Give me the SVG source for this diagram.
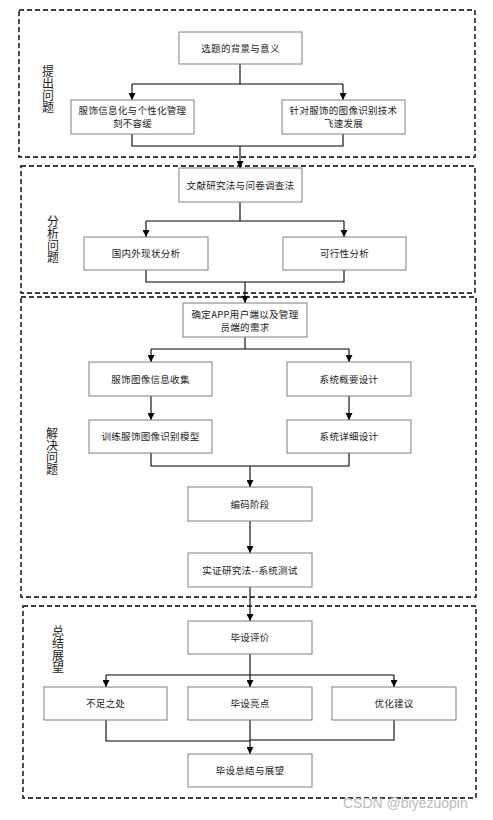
<svg xmlns="http://www.w3.org/2000/svg" width="493" height="820" viewBox="0 0 493 820">
<defs>
<marker id="ah" viewBox="0 0 10 10" refX="10" refY="5" markerWidth="7" markerHeight="7" markerUnits="userSpaceOnUse" orient="auto"><path d="M0,0 L10,5 L0,10 z" fill="#000"/></marker>
<style>
.sec{fill:none;stroke:#000;stroke-width:1.4;stroke-dasharray:5,3}
.box{fill:#fff;stroke:#7f7f7f;stroke-width:1}
.t{font-family:"Noto Sans CJK SC","Liberation Sans",sans-serif;font-size:9.5px;fill:#222;text-anchor:middle;letter-spacing:0.3px}
.lab{font-family:"Noto Sans CJK SC",sans-serif;font-size:12px;fill:#222;writing-mode:vertical-rl}
.c{fill:none;stroke:#000;stroke-width:1.1}
.a{marker-end:url(#ah)}
.wm{font-family:"Liberation Sans",sans-serif;font-size:14px;fill:#bbb}
</style>
</defs>
<rect width="493" height="820" fill="#fff"/>
<g id="sections">
<rect class="sec" x="19" y="10" width="456" height="147"/>
<rect class="sec" x="21" y="166" width="454" height="127"/>
<rect class="sec" x="21" y="297" width="455" height="300"/>
<rect class="sec" x="23" y="606" width="453" height="192"/>
</g>
<g id="labels">
<text class="lab" x="48" y="65">提出问题</text>
<text class="lab" x="53" y="215">分析问题</text>
<text class="lab" x="52" y="427">解决问题</text>
<text class="lab" x="58" y="625">总结展望</text>
</g>
<g id="connectors">
<path class="c" d="M240,64 V84 M132,84 H343"/>
<path class="c a" d="M132,84 V100"/>
<path class="c a" d="M343,84 V100"/>
<path class="c" d="M132,134 V146 H343 V134"/>
<path class="c a" d="M240,146 V168"/>
<path class="c" d="M240,202 V221 M146,221 H344"/>
<path class="c a" d="M146,221 V237"/>
<path class="c a" d="M344,221 V237"/>
<path class="c" d="M146,270 V282 H344 V270"/>
<path class="c a" d="M245,282 V303"/>
<path class="c" d="M245,337 V349 M151,349 H349"/>
<path class="c a" d="M151,349 V362"/>
<path class="c a" d="M349,349 V362"/>
<path class="c a" d="M151,396 V420"/>
<path class="c a" d="M349,396 V420"/>
<path class="c" d="M151,453 V466 H349 V453"/>
<path class="c a" d="M250,466 V487"/>
<path class="c a" d="M250,521 V553"/>
<path class="c a" d="M250,587 V621"/>
<path class="c" d="M250,654 V675 M106,675 H394"/>
<path class="c a" d="M106,675 V687"/>
<path class="c a" d="M250,675 V687"/>
<path class="c a" d="M394,675 V687"/>
<path class="c" d="M106,720 V741 H250 M394,720 V740 H250"/>
<path class="c a" d="M250,720 V754"/>
</g>
<g id="n1"><rect class="box" x="179" y="32" width="123" height="32"/><text class="t" x="240.5" y="51.5">选题的背景与意义</text></g>
<g id="n2"><rect class="box" x="71" y="100" width="123" height="34"/><text class="t" x="132.5" y="114">服饰信息化与个性化管理</text><text class="t" x="132.5" y="127">刻不容缓</text></g>
<g id="n3"><rect class="box" x="282" y="100" width="123" height="34"/><text class="t" x="343.5" y="114">针对服饰的图像识别技术</text><text class="t" x="343.5" y="127">飞速发展</text></g>
<g id="n4"><rect class="box" x="179" y="168" width="123" height="34"/><text class="t" x="240.5" y="188.5">文献研究法与问卷调查法</text></g>
<g id="n5"><rect class="box" x="84" y="237" width="124" height="33"/><text class="t" x="146" y="257">国内外现状分析</text></g>
<g id="n6"><rect class="box" x="283" y="237" width="123" height="33"/><text class="t" x="344.5" y="257">可行性分析</text></g>
<g id="n7"><rect class="box" x="183" y="303" width="124" height="34"/><text class="t" x="245" y="318">确定APP用户端以及管理</text><text class="t" x="245" y="331">员端的需求</text></g>
<g id="n8"><rect class="box" x="89" y="362" width="123" height="34"/><text class="t" x="150.5" y="382.5">服饰图像信息收集</text></g>
<g id="n9"><rect class="box" x="287" y="362" width="124" height="34"/><text class="t" x="349" y="382.5">系统概要设计</text></g>
<g id="n10"><rect class="box" x="89" y="420" width="123" height="33"/><text class="t" x="150.5" y="440">训练服饰图像识别模型</text></g>
<g id="n11"><rect class="box" x="287" y="420" width="124" height="33"/><text class="t" x="349" y="440">系统详细设计</text></g>
<g id="n12"><rect class="box" x="188" y="487" width="124" height="34"/><text class="t" x="250" y="507.5">编码阶段</text></g>
<g id="n13"><rect class="box" x="188" y="553" width="124" height="34"/><text class="t" x="250" y="573.5">实证研究法--系统测试</text></g>
<g id="n14"><rect class="box" x="188" y="621" width="124" height="33"/><text class="t" x="250" y="641">毕设评价</text></g>
<g id="n15"><rect class="box" x="44" y="687" width="123" height="33"/><text class="t" x="105.5" y="707">不足之处</text></g>
<g id="n16"><rect class="box" x="188" y="687" width="124" height="33"/><text class="t" x="250" y="707">毕设亮点</text></g>
<g id="n17"><rect class="box" x="332" y="687" width="124" height="33"/><text class="t" x="394" y="707">优化建议</text></g>
<g id="n18"><rect class="box" x="188" y="754" width="124" height="33"/><text class="t" x="250" y="774">毕设总结与展望</text></g>
<text class="wm" x="343" y="808">CSDN @biyezuopin</text>
</svg>
